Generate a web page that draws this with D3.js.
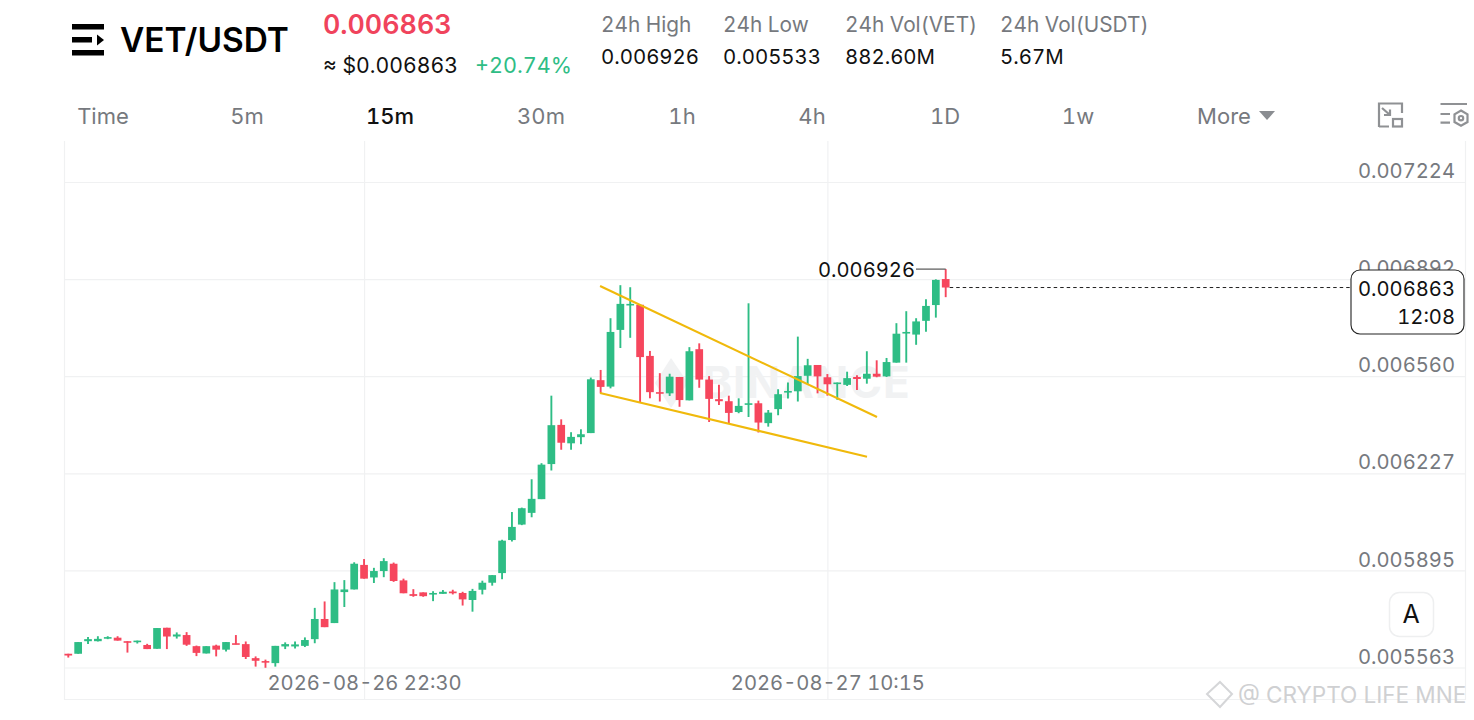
<!DOCTYPE html>
<html><head><meta charset="utf-8">
<script src="https://cdn.jsdelivr.net/npm/d3@7/dist/d3.min.js"></script>
<style>html,body{margin:0;padding:0;background:#fff}svg{display:block}text{font-family:Inter,"Noto Sans",sans-serif;font-feature-settings:"tnum" 1}</style>
</head><body><div id="chart"></div>
<script>
// Candle values in USDT, oldest first
const opens=[0.005610,0.005610,0.005653,0.005653,0.005662,0.005665,0.005653,0.005651,0.005640,0.005627,0.005699,0.005669,0.005674,0.005636,0.005611,0.005638,0.005624,0.005646,0.005643,0.005595,0.005585,0.005578,0.005635,0.005635,0.005637,0.005660,0.005729,0.005715,0.005821,0.005830,0.005914,0.005871,0.005893,0.005918,0.005861,0.005814,0.005820,0.005813,0.005815,0.005823,0.005818,0.005794,0.005829,0.005853,0.005886,0.005999,0.006052,0.006092,0.006139,0.006259,0.006393,0.006330,0.006351,0.006365,0.006546,0.006524,0.006718,0.006802,0.006804,0.006629,0.006505,0.006501,0.006557,0.006477,0.006652,0.006548,0.006481,0.006474,0.006437,0.006462,0.006467,0.006399,0.006447,0.006506,0.006508,0.006561,0.006598,0.006556,0.006533,0.006530,0.006557,0.006551,0.006568,0.006559,0.006606,0.006706,0.006702,0.006749,0.006803,0.006892];
const highs=[0.005610,0.005650,0.005667,0.005670,0.005670,0.005670,0.005653,0.005655,0.005644,0.005698,0.005699,0.005683,0.005684,0.005638,0.005636,0.005641,0.005650,0.005674,0.005652,0.005601,0.005590,0.005637,0.005649,0.005652,0.005666,0.005767,0.005789,0.005855,0.005862,0.005923,0.005934,0.005904,0.005937,0.005922,0.005867,0.005831,0.005820,0.005824,0.005828,0.005829,0.005822,0.005832,0.005860,0.005879,0.006000,0.006095,0.006110,0.006207,0.006262,0.006493,0.006412,0.006368,0.006378,0.006555,0.006581,0.006758,0.006871,0.006864,0.006804,0.006646,0.006570,0.006568,0.006557,0.006659,0.006672,0.006560,0.006530,0.006493,0.006484,0.006809,0.006476,0.006444,0.006515,0.006538,0.006695,0.006619,0.006598,0.006567,0.006538,0.006575,0.006563,0.006645,0.006614,0.006622,0.006741,0.006782,0.006758,0.006823,0.006891,0.006926];
const lows=[0.005597,0.005610,0.005643,0.005652,0.005660,0.005655,0.005614,0.005645,0.005626,0.005627,0.005626,0.005662,0.005637,0.005602,0.005611,0.005601,0.005618,0.005642,0.005592,0.005566,0.005562,0.005566,0.005626,0.005628,0.005633,0.005646,0.005701,0.005715,0.005770,0.005830,0.005867,0.005852,0.005872,0.005856,0.005817,0.005805,0.005805,0.005790,0.005815,0.005813,0.005775,0.005754,0.005813,0.005843,0.005865,0.005994,0.006050,0.006077,0.006139,0.006237,0.006308,0.006308,0.006327,0.006365,0.006501,0.006518,0.006656,0.006691,0.006469,0.006484,0.006473,0.006492,0.006455,0.006477,0.006520,0.006403,0.006461,0.006399,0.006433,0.006420,0.006367,0.006387,0.006426,0.006483,0.006473,0.006533,0.006501,0.006493,0.006479,0.006526,0.006512,0.006534,0.006556,0.006557,0.006606,0.006606,0.006667,0.006712,0.006760,0.006830];
const closes=[0.005604,0.005650,0.005660,0.005661,0.005667,0.005655,0.005649,0.005655,0.005626,0.005698,0.005669,0.005676,0.005641,0.005613,0.005636,0.005624,0.005650,0.005642,0.005599,0.005586,0.005580,0.005637,0.005643,0.005642,0.005657,0.005729,0.005701,0.005830,0.005830,0.005918,0.005867,0.005893,0.005927,0.005859,0.005817,0.005808,0.005807,0.005818,0.005822,0.005817,0.005796,0.005825,0.005853,0.005879,0.005997,0.006044,0.006108,0.006140,0.006257,0.006392,0.006332,0.006352,0.006361,0.006549,0.006523,0.006711,0.006807,0.006807,0.006625,0.006505,0.006500,0.006558,0.006478,0.006645,0.006548,0.006482,0.006474,0.006434,0.006458,0.006467,0.006401,0.006435,0.006498,0.006509,0.006560,0.006597,0.006559,0.006532,0.006538,0.006553,0.006550,0.006568,0.006558,0.006608,0.006705,0.006711,0.006747,0.006800,0.006889,0.006863];
const priceTicks=[0.007224,0.006892,0.006560,0.006227,0.005895,0.005563];
const timeTickIndex=[30,77];
const timeTickLabels=["2026-08-26 22:30","2026-08-27 10:15"];
const trendUpper=[[53.94,0.006868],[82.03,0.006420]];
const trendLower=[[53.94,0.006502],[81.02,0.006284]];
const lastPrice=0.006863, highPrice=0.006926;
const tabs=["Time","5m","15m","30m","1h","4h","1D","1w","More"];
const stats=[["24h High","0.006926"],["24h Low","0.005533"],["24h Vol(VET)","882.60M"],["24h Vol(USDT)","5.67M"]];

const GREEN="#2EBD85",RED="#F6465D",GRID="#F0F1F2",MUTED="#76797E";
const W=1474,H=720;
const svg=d3.select("#chart").append("svg").attr("width",W).attr("height",H).attr("viewBox",[0,0,W,H]);
const x=d3.scaleLinear().domain([0,89]).range([68.3,945.7]);
const y=d3.scaleLinear().domain([priceTicks[5],priceTicks[0]]).range([667.5,182]);
const txt=(s,px,py,size,fill,anchor,weight)=>svg.append("text").text(s).attr("x",px).attr("y",py).attr("font-size",size).attr("fill",fill).attr("text-anchor",anchor||"start").attr("font-weight",weight||400);

// header
const logo=svg.append("g").attr("fill","#000");
logo.append("rect").attr("x",72).attr("y",24).attr("width",32).attr("height",5.5);
logo.append("rect").attr("x",72).attr("y",37).attr("width",20).attr("height",5.5);
logo.append("path").attr("d","M97 34.5L104 40L97 45.5Z");
logo.append("rect").attr("x",72).attr("y",50).attr("width",32).attr("height",5.5);
txt("VET/USDT",120,52,33.4,"#000","start",600);
txt("0.006863",323,34,26.8,"#F0435C","start",600);
txt("≈ $0.006863",323,73,21.2,"#111");
txt("+20.74%",475,73,21.6,GREEN);
const statX=[601,723,845,1000];
stats.forEach((s,i)=>{txt(s[0],statX[i],32,20.8,"#76797E");txt(s[1],statX[i],64,20.4,"#111");});
const tabX=[103,247,390,541,682,812,945,1078,1224];
tabs.forEach((t,i)=>txt(t,tabX[i],124,22,t==="15m"?"#111":MUTED,"middle",t==="15m"?500:400));
svg.append("path").attr("d","M1259 111H1275L1267 120Z").attr("fill","#8A8D91");
const ic=svg.append("g").attr("fill","none").attr("stroke","#8F9194").attr("stroke-width",2.2);
ic.append("path").attr("d","M1379 127V103.5H1402V113M1379 126.5H1389M1382 108L1390 115M1390 109.5V115H1384");
ic.append("rect").attr("x",1393).attr("y",119).attr("width",9).attr("height",7.5);
ic.append("path").attr("d","M1440.5 104H1467M1440.5 114H1450M1440.5 122.7H1450");
ic.append("path").attr("d","M1461 110.5L1467.5 114.3V122L1461 125.8L1454.5 122V114.3Z");
ic.append("circle").attr("cx",1461).attr("cy",118.2).attr("r",2.2);

// frame and grid
const frame=svg.append("g").attr("stroke",GRID).attr("stroke-width",1.2);
frame.append("line").attr("x1",64.5).attr("x2",64.5).attr("y1",141).attr("y2",700);
frame.append("line").attr("x1",1465.5).attr("x2",1465.5).attr("y1",141).attr("y2",700);
frame.append("line").attr("x1",64.5).attr("x2",1465.5).attr("y1",699.5).attr("y2",699.5);

const yAxis=d3.axisRight(y).tickValues(priceTicks).tickSize(-(1465-65)).tickFormat(d3.format(".6f"));
const yg=svg.append("g").attr("transform","translate(1465,0)").call(yAxis);
yg.select(".domain").remove();
yg.selectAll("line").attr("stroke",GRID).attr("stroke-width",1.2);
yg.selectAll("text").attr("x",-10).attr("dy","-0.22em").attr("text-anchor","end").attr("font-size",20.2).attr("fill",MUTED);

const xAxis=d3.axisBottom(x).tickValues(timeTickIndex).tickSize(-559).tickFormat((d,i)=>timeTickLabels[i]);
const xg=svg.append("g").attr("transform","translate(0,700)").call(xAxis);
xg.select(".domain").remove();
xg.selectAll("line").attr("stroke",GRID).attr("stroke-width",1.2);
xg.selectAll("text").attr("y",-22).attr("dy",".6em").attr("font-size",20.2).attr("fill",MUTED);

// watermarks
txt("BINANCE",703,398,44,"#F1F2F3","start",700).attr("letter-spacing",1);
svg.append("path").attr("d","M671 358L688 383L671 408L655 383Z").attr("fill","#F1F2F3");
svg.append("path").attr("d","M1220 682L1232 694L1220 707L1207 694Z").attr("fill","none").attr("stroke","#D5D6D8").attr("stroke-width",2);
txt("@ CRYPTO LIFE MNE",1238,703,22.6,"#CFD0D2");

// candles
const idx=d3.range(opens.length);
const col=i=>closes[i]>=opens[i]?GREEN:RED;
const bodyW=7.7;
svg.append("g").selectAll("line").data(idx).join("line")
 .attr("x1",x).attr("x2",x).attr("y1",i=>y(highs[i])).attr("y2",i=>y(lows[i]))
 .attr("stroke",col).attr("stroke-width",1.9);
svg.append("g").selectAll("rect").data(idx).join("rect")
 .attr("x",i=>x(i)-bodyW/2).attr("width",bodyW)
 .attr("y",i=>y(Math.max(opens[i],closes[i])))
 .attr("height",i=>Math.max(1.6,Math.abs(y(opens[i])-y(closes[i]))))
 .attr("fill",col);

// trend lines
const ln=d3.line().x(d=>x(d[0])).y(d=>y(d[1]));
svg.append("g").selectAll("path").data([trendUpper,trendLower]).join("path")
 .attr("d",ln).attr("fill","none").attr("stroke","#F0B90B").attr("stroke-width",2.1);

// high marker
svg.append("line").attr("x1",916).attr("x2",x(89)).attr("y1",y(highPrice)).attr("y2",y(highPrice)).attr("stroke","#555").attr("stroke-width",1.2);
txt(d3.format(".6f")(highPrice),915,276.5,20.2,"#111","end");

// last price
svg.append("line").attr("x1",x(89)+4).attr("x2",1351).attr("y1",y(lastPrice)).attr("y2",y(lastPrice)).attr("stroke","#222").attr("stroke-width",1).attr("stroke-dasharray","3.5,3");
svg.append("rect").attr("x",1351).attr("y",270).attr("width",113).attr("height",64).attr("rx",9).attr("fill","#fff").attr("stroke","#222").attr("stroke-width",1.1);
txt(d3.format(".6f")(lastPrice),1455,295.5,20.2,"#111","end");
txt("12:08",1455,323.5,20.2,"#111","end");

// auto-scale button
svg.append("rect").attr("x",1389.5).attr("y",592.5).attr("width",44).attr("height",44).attr("rx",10).attr("fill","#fff").attr("stroke","#EEEFF0").attr("stroke-width",1.5);
txt("A",1411,623,25,"#111","middle");
</script></body></html>
